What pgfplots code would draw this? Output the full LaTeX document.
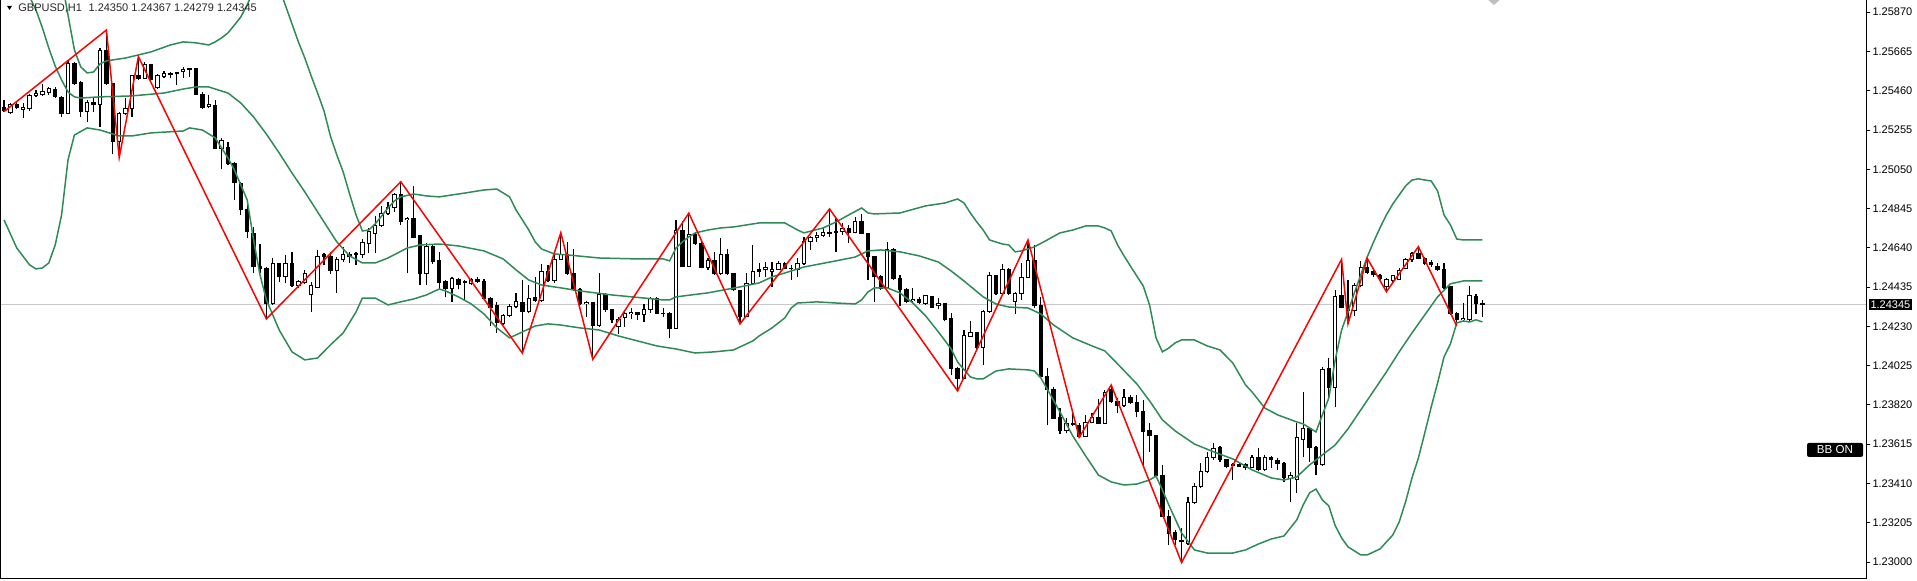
\documentclass[border=0pt]{standalone}
\usepackage{fontspec}
\setmainfont{Liberation Sans}
\usepackage{pgfplots}
\usepackage{pgfplotstable}
\pgfplotsset{compat=1.18}
\definecolor{bbgreen}{RGB}{46,139,87}
\definecolor{bidgray}{RGB}{200,200,200}

\pgfplotstableread{
i o h l c
0 1.25375 1.25412 1.25351 1.25355
1 1.25346 1.25396 1.25339 1.25386
2 1.25390 1.25400 1.25365 1.25372
3 1.25363 1.25395 1.25316 1.25374
4 1.25365 1.25443 1.25356 1.25434
5 1.25433 1.25464 1.25426 1.25447
6 1.25442 1.25494 1.25433 1.25455
7 1.25452 1.25481 1.25438 1.25473
8 1.25469 1.25481 1.25424 1.25429
9 1.25426 1.25433 1.25325 1.25343
10 1.25343 1.25621 1.25337 1.25604
11 1.25604 1.25612 1.25490 1.25499
12 1.25502 1.25511 1.25325 1.25351
13 1.25351 1.25412 1.25299 1.25398
14 1.25398 1.25421 1.25348 1.25390
15 1.25390 1.25682 1.25273 1.25668
16 1.25668 1.25777 1.25490 1.25499
17 1.25496 1.25499 1.25129 1.25194
18 1.25194 1.25351 1.25111 1.25343
19 1.25339 1.25421 1.25334 1.25369
20 1.25369 1.25542 1.25325 1.25537
21 1.25537 1.25638 1.25516 1.25525
22 1.25525 1.25612 1.25522 1.25598
23 1.25598 1.25600 1.25516 1.25520
24 1.25476 1.25546 1.25469 1.25542
25 1.25534 1.25563 1.25525 1.25551
26 1.25551 1.25560 1.25525 1.25546
27 1.25553 1.25560 1.25490 1.25548
28 1.25560 1.25586 1.25525 1.25572
29 1.25574 1.25577 1.25534 1.25572
30 1.25574 1.25577 1.25438 1.25443
31 1.25443 1.25452 1.25363 1.25372
32 1.25377 1.25438 1.25369 1.25386
33 1.25382 1.25412 1.25156 1.25160
34 1.25160 1.25215 1.25049 1.25198
35 1.25165 1.25194 1.25073 1.25078
36 1.25078 1.25090 1.24890 1.24980
37 1.24977 1.24985 1.24812 1.24838
38 1.24838 1.24864 1.24692 1.24723
39 1.24716 1.24751 1.24511 1.24542
40 1.24545 1.24660 1.24507 1.24533
41 1.24533 1.24542 1.24269 1.24347
42 1.24347 1.24586 1.24342 1.24560
43 1.24560 1.24563 1.24464 1.24490
44 1.24490 1.24603 1.24455 1.24560
45 1.24560 1.24620 1.24437 1.24443
46 1.24443 1.24472 1.24429 1.24464
47 1.24458 1.24525 1.24452 1.24504
48 1.24394 1.24464 1.24307 1.24443
49 1.24434 1.24629 1.24429 1.24597
50 1.24603 1.24612 1.24551 1.24594
51 1.24597 1.24620 1.24504 1.24521
52 1.24521 1.24594 1.24406 1.24580
53 1.24580 1.24646 1.24568 1.24603
54 1.24607 1.24620 1.24560 1.24597
55 1.24608 1.24620 1.24551 1.24607
56 1.24607 1.24685 1.24586 1.24667
57 1.24664 1.24742 1.24612 1.24725
58 1.24716 1.24806 1.24615 1.24754
59 1.24754 1.24859 1.24751 1.24817
60 1.24817 1.24881 1.24812 1.24852
61 1.24852 1.24928 1.24829 1.24921
62 1.24920 1.24985 1.24760 1.24777
63 1.24786 1.24803 1.24511 1.24794
64 1.24794 1.24963 1.24690 1.24695
65 1.24702 1.24707 1.24446 1.24507
66 1.24507 1.24667 1.24446 1.24646
67 1.24646 1.24660 1.24556 1.24568
68 1.24573 1.24620 1.24423 1.24458
69 1.24464 1.24472 1.24382 1.24429
70 1.24429 1.24490 1.24359 1.24481
71 1.24476 1.24481 1.24423 1.24450
72 1.24464 1.24472 1.24368 1.24458
73 1.24452 1.24481 1.24446 1.24476
74 1.24476 1.24490 1.24458 1.24464
75 1.24464 1.24476 1.24372 1.24377
76 1.24377 1.24382 1.24232 1.24330
77 1.24337 1.24359 1.24197 1.24249
78 1.24246 1.24295 1.24237 1.24285
79 1.24285 1.24347 1.24281 1.24333
80 1.24333 1.24403 1.24325 1.24359
81 1.24354 1.24472 1.24090 1.24307
82 1.24307 1.24446 1.24302 1.24377
83 1.24382 1.24490 1.24359 1.24364
84 1.24364 1.24554 1.24359 1.24516
85 1.24516 1.24551 1.24464 1.24469
86 1.24469 1.24603 1.24458 1.24580
87 1.24580 1.24719 1.24577 1.24603
88 1.24603 1.24672 1.24499 1.24507
89 1.24507 1.24633 1.24416 1.24423
90 1.24423 1.24429 1.24342 1.24351
91 1.24347 1.24364 1.24281 1.24356
92 1.24356 1.24359 1.24058 1.24237
93 1.24237 1.24507 1.24229 1.24394
94 1.24394 1.24403 1.24307 1.24316
95 1.24316 1.24319 1.24249 1.24264
96 1.24229 1.24281 1.24191 1.24267
97 1.24278 1.24307 1.24229 1.24295
98 1.24295 1.24325 1.24267 1.24302
99 1.24302 1.24307 1.24264 1.24290
100 1.24290 1.24347 1.24255 1.24316
101 1.24316 1.24382 1.24302 1.24377
102 1.24377 1.24382 1.24295 1.24299
103 1.24299 1.24325 1.24281 1.24295
104 1.24295 1.24307 1.24168 1.24220
105 1.24220 1.24786 1.24215 1.24733
106 1.24733 1.24782 1.24542 1.24545
107 1.24545 1.24821 1.24539 1.24712
108 1.24712 1.24716 1.24655 1.24664
109 1.24664 1.24681 1.24533 1.24539
110 1.24539 1.24586 1.24525 1.24572
111 1.24572 1.24620 1.24499 1.24504
112 1.24504 1.24690 1.24499 1.24607
113 1.24607 1.24633 1.24499 1.24504
114 1.24504 1.24507 1.24415 1.24420
115 1.24416 1.24420 1.24243 1.24281
116 1.24281 1.24507 1.24278 1.24452
117 1.24452 1.24655 1.24446 1.24519
118 1.24525 1.24560 1.24490 1.24519
119 1.24525 1.24568 1.24490 1.24539
120 1.24516 1.24568 1.24437 1.24528
121 1.24528 1.24572 1.24525 1.24556
122 1.24560 1.24568 1.24528 1.24533
123 1.24533 1.24551 1.24472 1.24530
124 1.24525 1.24586 1.24490 1.24556
125 1.24556 1.24698 1.24551 1.24672
126 1.24672 1.24702 1.24629 1.24695
127 1.24695 1.24725 1.24672 1.24702
128 1.24704 1.24742 1.24698 1.24721
129 1.24721 1.24843 1.24698 1.24716
130 1.24725 1.24794 1.24620 1.24721
131 1.24725 1.24768 1.24707 1.24739
132 1.24739 1.24760 1.24664 1.24719
133 1.24719 1.24803 1.24716 1.24775
134 1.24775 1.24817 1.24712 1.24716
135 1.24716 1.24719 1.24472 1.24594
136 1.24594 1.24597 1.24359 1.24490
137 1.24490 1.24499 1.24420 1.24429
138 1.24434 1.24672 1.24429 1.24629
139 1.24633 1.24638 1.24472 1.24481
140 1.24481 1.24499 1.24337 1.24420
141 1.24420 1.24429 1.24351 1.24359
142 1.24364 1.24429 1.24351 1.24372
143 1.24372 1.24385 1.24347 1.24354
144 1.24351 1.24394 1.24342 1.24389
145 1.24385 1.24389 1.24325 1.24330
146 1.24337 1.24377 1.24319 1.24351
147 1.24347 1.24351 1.24260 1.24267
148 1.24273 1.24299 1.23976 1.24012
149 1.24012 1.24020 1.23893 1.23959
150 1.23959 1.24211 1.23954 1.24180
151 1.24176 1.24260 1.24173 1.24197
152 1.24197 1.24202 1.24111 1.24121
153 1.24121 1.24316 1.24030 1.24307
154 1.24307 1.24516 1.24302 1.24493
155 1.24493 1.24499 1.24394 1.24403
156 1.24403 1.24556 1.24394 1.24528
157 1.24528 1.24533 1.24394 1.24403
158 1.24359 1.24411 1.24295 1.24403
159 1.24403 1.24560 1.24368 1.24486
160 1.24486 1.24681 1.24481 1.24573
161 1.24573 1.24655 1.24325 1.24337
162 1.24337 1.24385 1.23965 1.23968
163 1.23968 1.24012 1.23717 1.23901
164 1.23901 1.23915 1.23745 1.23751
165 1.23756 1.23803 1.23669 1.23689
166 1.23689 1.23751 1.23672 1.23724
167 1.23724 1.23785 1.23711 1.23717
168 1.23710 1.23724 1.23651 1.23654
169 1.23654 1.23768 1.23651 1.23727
170 1.23727 1.23777 1.23724 1.23756
171 1.23756 1.23850 1.23721 1.23724
172 1.23724 1.23898 1.23721 1.23884
173 1.23901 1.23924 1.23832 1.23837
174 1.23837 1.23855 1.23777 1.23815
175 1.23815 1.23901 1.23811 1.23860
176 1.23860 1.23872 1.23825 1.23832
177 1.23832 1.23872 1.23759 1.23785
178 1.23785 1.23846 1.23507 1.23680
179 1.23684 1.23724 1.23576 1.23658
180 1.23658 1.23663 1.23446 1.23454
181 1.23454 1.23507 1.23237 1.23240
182 1.23240 1.23272 1.23090 1.23150
183 1.23153 1.23167 1.23090 1.23115
184 1.23111 1.23176 1.22997 1.23105
185 1.23098 1.23341 1.23090 1.23310
186 1.23310 1.23411 1.23303 1.23393
187 1.23393 1.23516 1.23385 1.23472
188 1.23472 1.23576 1.23466 1.23547
189 1.23547 1.23620 1.23533 1.23594
190 1.23599 1.23606 1.23524 1.23533
191 1.23533 1.23536 1.23489 1.23498
192 1.23508 1.23516 1.23428 1.23505
193 1.23508 1.23516 1.23495 1.23501
194 1.23508 1.23516 1.23481 1.23495
195 1.23495 1.23559 1.23489 1.23545
196 1.23547 1.23594 1.23477 1.23484
197 1.23484 1.23559 1.23477 1.23547
198 1.23547 1.23554 1.23489 1.23533
199 1.23529 1.23542 1.23481 1.23516
200 1.23516 1.23524 1.23420 1.23443
201 1.23437 1.23472 1.23315 1.23449
202 1.23432 1.23727 1.23359 1.23651
203 1.23637 1.23889 1.23550 1.23698
204 1.23698 1.23707 1.23524 1.23599
205 1.23599 1.23606 1.23454 1.23507
206 1.23507 1.24020 1.23502 1.24006
207 1.24012 1.24064 1.23846 1.23912
208 1.23912 1.24420 1.23807 1.24385
209 1.24389 1.24580 1.24325 1.24330
210 1.24330 1.24472 1.24243 1.24312
211 1.24312 1.24455 1.24285 1.24441
212 1.24441 1.24573 1.24434 1.24539
213 1.24539 1.24586 1.24504 1.24511
214 1.24516 1.24525 1.24490 1.24499
215 1.24493 1.24504 1.24472 1.24481
216 1.24437 1.24481 1.24411 1.24476
217 1.24472 1.24499 1.24464 1.24493
218 1.24476 1.24533 1.24472 1.24521
219 1.24533 1.24586 1.24528 1.24577
220 1.24577 1.24620 1.24568 1.24612
221 1.24612 1.24646 1.24580 1.24586
222 1.24586 1.24594 1.24551 1.24560
223 1.24563 1.24577 1.24542 1.24551
224 1.24545 1.24560 1.24521 1.24528
225 1.24528 1.24560 1.24423 1.24434
226 1.24437 1.24441 1.24290 1.24299
227 1.24299 1.24307 1.24232 1.24267
228 1.24264 1.24354 1.24260 1.24273
229 1.24264 1.24441 1.24260 1.24389
230 1.24385 1.24399 1.24295 1.24347
231 1.24350 1.24367 1.24279 1.24345
}\candles

\pgfplotstableread{
i v
9 1.26038
10 1.25856
11 1.25673
12 1.25584
13 1.25553
14 1.25558
15 1.25600
16 1.25616
17 1.25621
19 1.25631
21 1.25647
23 1.25663
26 1.25699
28 1.25715
30 1.25710
32 1.25699
33 1.25715
34 1.25736
35 1.25762
36 1.25803
37 1.25845
38 1.25908
39 1.25986
41 1.26091
43 1.25997
44 1.25903
45 1.25809
46 1.25715
47 1.25631
48 1.25537
49 1.25448
50 1.25355
51 1.25224
52 1.25125
53 1.25036
54 1.24921
55 1.24812
56 1.24728
57 1.24733
58 1.24765
59 1.24806
60 1.24848
61 1.24885
62 1.24906
64 1.24921
66 1.24911
68 1.24906
70 1.24916
72 1.24926
75 1.24942
77 1.24947
79 1.24906
80 1.24838
81 1.24786
82 1.24733
83 1.24671
84 1.24634
86 1.24608
88 1.24603
93 1.24587
99 1.24582
103 1.24582
104 1.24572
105 1.24639
106 1.24671
107 1.24697
108 1.24718
110 1.24733
112 1.24744
114 1.24749
118 1.24770
122 1.24770
124 1.24733
125 1.24718
128 1.24744
130 1.24775
132 1.24812
134 1.24848
135 1.24822
136 1.24817
140 1.24822
144 1.24859
147 1.24874
149 1.24895
150 1.24874
151 1.24822
152 1.24775
153 1.24733
154 1.24681
156 1.24660
157 1.24655
158 1.24619
159 1.24624
161 1.24645
163 1.24681
165 1.24718
167 1.24733
169 1.24754
171 1.24754
172 1.24744
173 1.24728
174 1.24655
175 1.24598
176 1.24545
177 1.24493
178 1.24441
179 1.24342
180 1.24170
181 1.24097
182 1.24117
183 1.24144
184 1.24159
186 1.24159
188 1.24128
190 1.24107
192 1.24039
194 1.23924
195 1.23888
197 1.23804
199 1.23768
202 1.23731
203 1.23721
204 1.23700
205 1.23679
206 1.23768
207 1.23856
208 1.24055
209 1.24211
210 1.24305
211 1.24405
212 1.24499
213 1.24592
214 1.24671
215 1.24744
216 1.24812
217 1.24869
218 1.24916
219 1.24963
220 1.24994
221 1.25000
222 1.24994
223 1.24989
224 1.24937
225 1.24812
226 1.24760
227 1.24686
228 1.24681
231 1.24681
}\upperband

\pgfplotstableread{
i v
3 1.26038
4 1.25950
5 1.25882
6 1.25788
7 1.25683
8 1.25589
9 1.25516
10 1.25454
11 1.25428
12 1.25422
15 1.25428
20 1.25433
25 1.25448
28 1.25469
30 1.25480
32 1.25480
33 1.25469
35 1.25448
37 1.25396
39 1.25323
41 1.25234
43 1.25135
45 1.25031
47 1.24932
50 1.24775
52 1.24671
54 1.24598
56 1.24561
58 1.24561
60 1.24587
63 1.24639
65 1.24655
68 1.24660
71 1.24650
75 1.24624
78 1.24582
80 1.24525
82 1.24472
84 1.24446
87 1.24431
90 1.24415
95 1.24394
100 1.24378
103 1.24368
104 1.24368
105 1.24384
110 1.24405
115 1.24436
118 1.24457
120 1.24488
125 1.24540
130 1.24572
133 1.24592
135 1.24624
137 1.24629
140 1.24619
143 1.24598
146 1.24566
148 1.24519
150 1.24467
153 1.24384
155 1.24347
157 1.24331
160 1.24326
162 1.24295
164 1.24237
167 1.24170
170 1.24128
172 1.24102
174 1.24034
177 1.23930
179 1.23841
181 1.23742
183 1.23684
186 1.23616
189 1.23575
192 1.23538
195 1.23481
198 1.23439
200 1.23428
202 1.23444
204 1.23507
206 1.23559
208 1.23611
210 1.23695
212 1.23794
214 1.23893
216 1.23992
218 1.24097
220 1.24196
222 1.24290
224 1.24384
226 1.24452
228 1.24467
231 1.24467
}\middleband

\pgfplotstableread{
i v
0 1.24786
2 1.24639
4 1.24551
5 1.24530
6 1.24535
7 1.24561
8 1.24655
9 1.24812
10 1.25099
11 1.25229
13 1.25266
15 1.25255
18 1.25224
20 1.25224
23 1.25240
28 1.25250
29 1.25266
31 1.25255
33 1.25214
35 1.25109
36 1.25047
37 1.24968
38 1.24890
39 1.24681
40 1.24499
41 1.24368
43 1.24211
45 1.24097
47 1.24055
49 1.24065
51 1.24133
53 1.24196
55 1.24305
56 1.24378
58 1.24378
60 1.24342
62 1.24358
64 1.24373
66 1.24394
68 1.24425
69 1.24415
71 1.24384
73 1.24347
75 1.24295
77 1.24222
79 1.24170
81 1.24201
83 1.24232
85 1.24243
87 1.24237
90 1.24222
93 1.24211
96 1.24180
99 1.24154
102 1.24128
105 1.24112
108 1.24091
111 1.24097
114 1.24107
117 1.24154
118 1.24180
120 1.24222
122 1.24274
123 1.24326
124 1.24352
127 1.24358
130 1.24352
133 1.24347
134 1.24368
135 1.24410
136 1.24431
138 1.24431
140 1.24405
142 1.24352
144 1.24285
146 1.24201
148 1.24112
149 1.24044
151 1.23966
152 1.23956
153 1.23956
155 1.23997
157 1.24008
160 1.24003
161 1.23997
162 1.23961
163 1.23903
165 1.23783
167 1.23658
169 1.23554
171 1.23454
173 1.23418
175 1.23402
177 1.23407
179 1.23428
180 1.23449
181 1.23376
182 1.23298
184 1.23152
186 1.23063
188 1.23047
192 1.23047
194 1.23063
196 1.23094
198 1.23120
200 1.23136
202 1.23220
203 1.23298
204 1.23361
205 1.23381
206 1.23324
207 1.23293
208 1.23190
209 1.23126
210 1.23079
212 1.23037
213 1.23037
215 1.23068
217 1.23141
218 1.23209
219 1.23314
220 1.23439
221 1.23543
222 1.23674
223 1.23809
224 1.23935
225 1.24070
226 1.24138
227 1.24248
228 1.24258
229 1.24253
230 1.24264
231 1.24253
}\lowerband

\pgfplotstableread{
i v
0 1.25351
16 1.25777
18 1.25111
21 1.25638
41 1.24269
62 1.24985
81 1.24090
87 1.24719
92 1.24058
107 1.24821
115 1.24243
129 1.24843
149 1.23893
160 1.24681
168 1.23651
173 1.23924
184 1.22997
209 1.24580
210 1.24243
213 1.24586
216 1.24411
221 1.24646
227 1.24232
}\zigzag

\begin{document}
\begin{tikzpicture}
\useasboundingbox (-0.5pt,-1pt) rectangle (958pt,289pt);
\begin{axis}[
  scale only axis,
  width=932.75pt, height=288.5pt,
  xmin=-0.469, xmax=291.02,
  ymin=1.229165, ymax=1.259285,
  clip mode=individual,
  axis line style={draw=none},
  xtick=\empty,
  ytick={1.23000,1.23205,1.23410,1.23615,1.23820,1.24025,1.24230,1.24435,1.24640,1.24845,1.25050,1.25255,1.25460,1.25665,1.25870},
  yticklabels={1.23000,1.23205,1.23410,1.23615,1.23820,1.24025,1.24230,1.24435,1.24640,1.24845,1.25050,1.25255,1.25460,1.25665,1.25870},
  scaled y ticks=false,
  ytick pos=right, yticklabel pos=right,
  tick align=outside, major tick length=1.6pt,
  ytick style={black, line width=0.5pt},
  yticklabel style={font=\fontsize{5.5}{6}\selectfont, anchor=west, inner sep=0pt, xshift=1.2pt},
  candle/.style={only marks, mark=*, mark size=0pt, mark options={draw=none, fill=none}},
]
% current price line
\addplot[bidgray, line width=0.6pt] coordinates {(-1,1.24345) (292,1.24345)};
% wicks
\addplot[candle, error bars/.cd, y dir=plus, y explicit, error mark=none,
  error bar style={black, line width=0.55pt}]
  table[x=i, y=l, y error expr={\thisrow{h}-\thisrow{l}}] {\candles};
% bodies (outline / bearish fill)
\addplot[candle, error bars/.cd, y dir=plus, y explicit, error mark=none,
  error bar style={black, line width=2.2pt}]
  table[x=i, y expr={min(\thisrow{o},\thisrow{c})-0.000026}, y error expr={abs(\thisrow{c}-\thisrow{o})+0.000052}] {\candles};
% bullish white fill
\addplot[candle, error bars/.cd, y dir=plus, y explicit, error mark=none,
  error bar style={white, line width=1.2pt}]
  table[x=i, y expr={\thisrow{o}+0.000026}, y error expr={max(\thisrow{c}-\thisrow{o}-0.000052,0)}] {\candles};
% Bollinger bands
\addplot[bbgreen, line width=0.75pt, mark=none] table[x=i, y=v] {\upperband};
\addplot[bbgreen, line width=0.75pt, mark=none] table[x=i, y=v] {\middleband};
\addplot[bbgreen, line width=0.75pt, mark=none] table[x=i, y=v] {\lowerband};
% ZigZag
\addplot[red, line width=0.75pt, mark=none] table[x=i, y=v] {\zigzag};

% frame
\draw[black, line width=0.5pt] (rel axis cs:0,1.002) -- (rel axis cs:0,0) -- (rel axis cs:1,0) -- (rel axis cs:1,1.002);
% title
\fill[black] (axis cs:0.47,1.25903) -- (axis cs:1.25,1.25903) -- (axis cs:0.86,1.25882) -- cycle;
\node[anchor=west, inner sep=0pt, font=\fontsize{5.5}{6}\selectfont, text=black!85] at (axis cs:2.19,1.258893)
  {GBPUSD,H1\hspace{0.6em}1.24350 1.24367 1.24279 1.24345};
% shift marker
\fill[gray!50] (axis cs:231.9,1.25934) -- (axis cs:233.7,1.25934) -- (axis cs:232.8,1.25908) -- cycle;
% bid label
\node[anchor=west, fill=black, text=white, inner xsep=0.9pt, inner ysep=0.8pt, xshift=0.9pt,
  font=\fontsize{5.5}{6}\selectfont] at (axis cs:291.02,1.24345) {1.24345};
% BB ON label
\node[fill=black, text=white, rounded corners=1pt, minimum width=28pt, minimum height=7pt, inner sep=0pt,
  font=\fontsize{5.8}{6}\selectfont] at (axis cs:286.1,1.23585) {BB ON};
\end{axis}
\end{tikzpicture}
\end{document}
